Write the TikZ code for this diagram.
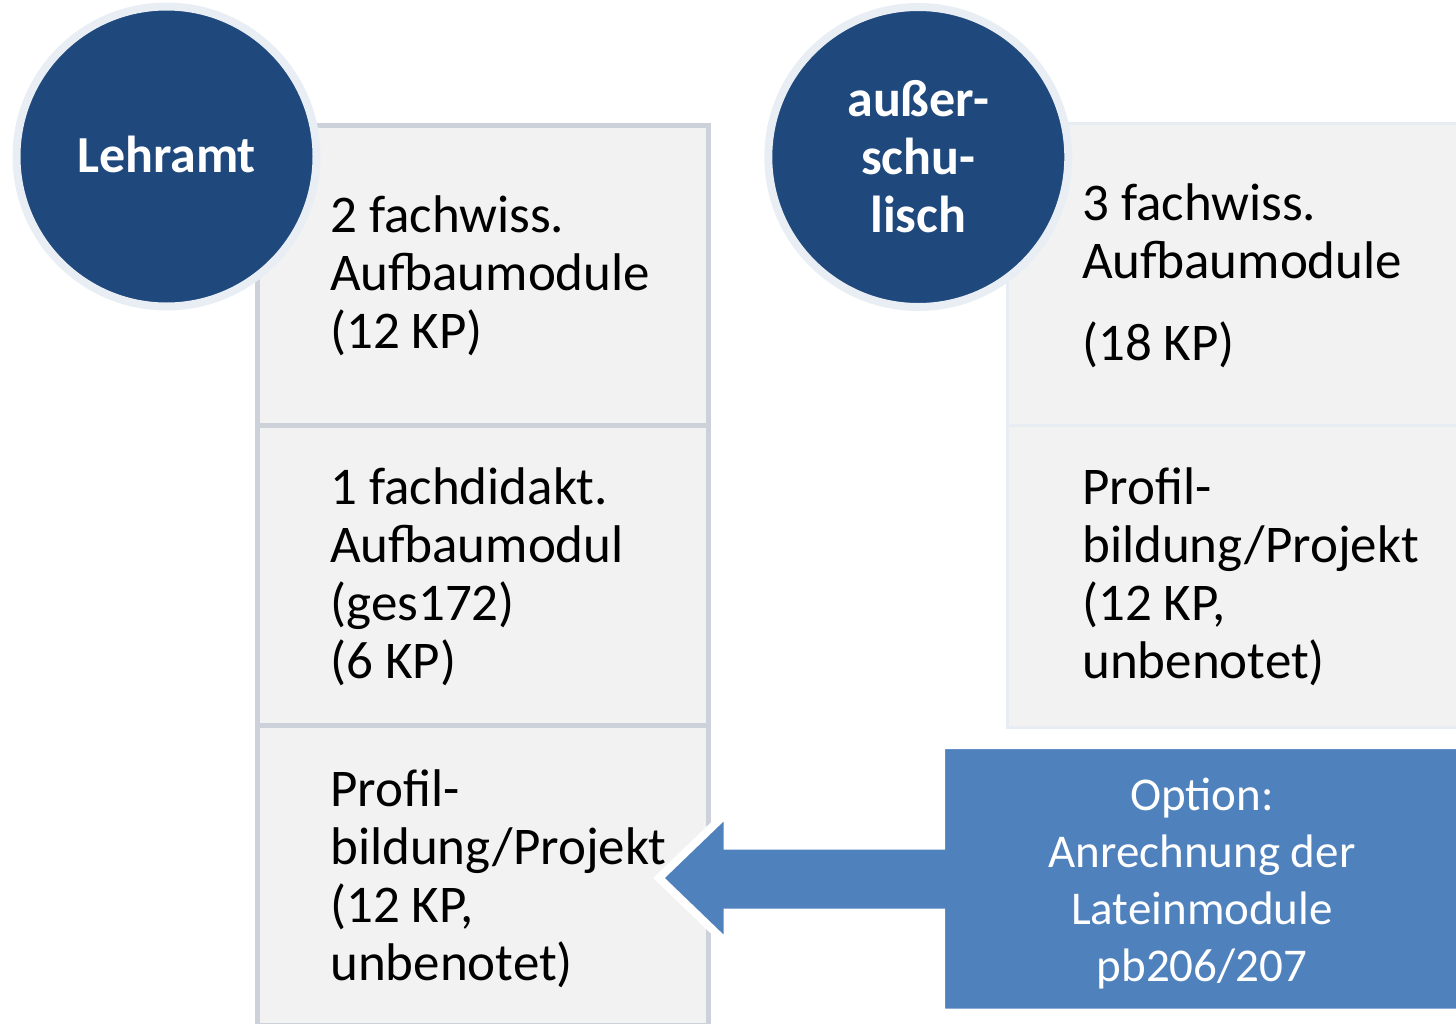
\documentclass[tikz,border=0pt]{standalone}
\usepackage{fontspec}
\setmainfont{Carlito}
\usetikzlibrary{shadows}
\definecolor{kreisblau}{HTML}{1F497D}
\definecolor{ring}{HTML}{E9EEF5}
\definecolor{feld}{HTML}{F2F2F2}
\definecolor{randl}{HTML}{CDD1D9}
\definecolor{randr}{HTML}{E8ECF3}
\definecolor{pfeilblau}{HTML}{4F81BD}

\begin{document}
\begin{tikzpicture}[x=1pt, y=-1pt,
  kreis/.style={circle, minimum size=300, inner sep=0, fill=kreisblau, draw=ring, line width=8,
    text=white, align=center, font=\fontsize{52}{58}\selectfont\bfseries,
    drop shadow={shadow xshift=1pt, shadow yshift=-3pt, opacity=0.2}},
  feldl/.style={rectangle, fill=feld, draw=randl, line width=5, minimum width=450.5, minimum height=300, inner sep=0},
  feldr/.style={feldl, draw=randr, line width=3, minimum width=500, minimum height=302},
  txt/.style={anchor=west, align=left, inner sep=0, font=\fontsize{53}{58}\selectfont},
  pfeil/.style={fill=pfeilblau, draw=white, line width=8, line join=miter,
    drop shadow={shadow xshift=2pt, shadow yshift=-3pt, opacity=0.3}}]
\useasboundingbox (0,0) rectangle (1456,1023);
\clip (0,0) rectangle (1456,1023);

\node[feldl] (l1) at (482.75,275.75) {};
\node[feldl] (l2) at (482.75,575.75) {};
\node[feldl] (l3) at (482.75,875.75) {};
\node[feldr] (r1) at (1257,274) {};
\node[feldr] (r2) at (1257,576.5) {};

\node[txt] (t1) at (330,276) {2 fachwiss.\\Aufbaumodule\\(12 KP)};
\node[txt] (t2) at (330,576.5) {1 fachdidakt.\\Aufbaumodul\\(ges172)\\(6 KP)};
\node[txt] (t3) at (330,879) {Profil-\\bildung/Projekt\\(12 KP,\\unbenotet)};
\node[txt] (t4) at (1082,276) {3 fachwiss.\\Aufbaumodule\\[24pt](18 KP)};
\node[txt] (t5) at (1082,576.5) {Profil-\\bildung/Projekt\\(12 KP,\\unbenotet)};

\node[kreis, text depth=5] (lehramt) at (166.5,156.5) {Lehramt};
\node[kreis] (ausser) at (918.3,157) {außer-\\schu-\\lisch};

\draw[pfeil] (659,878) -- (727.5,812) -- (727.5,845.5) -- (941,845.5) -- (941,745) -- (1480,745)
  -- (1480,1012.5) -- (941,1012.5) -- (941,912.5) -- (727.5,912.5) -- (727.5,944) -- cycle;
\node[font=\fontsize{47}{57.3}\selectfont, text=white, align=center, inner sep=0] (option) at (1202,883.5)
  {Option:\\Anrechnung der\\Lateinmodule\\pb206/207};
\end{tikzpicture}
\end{document}
